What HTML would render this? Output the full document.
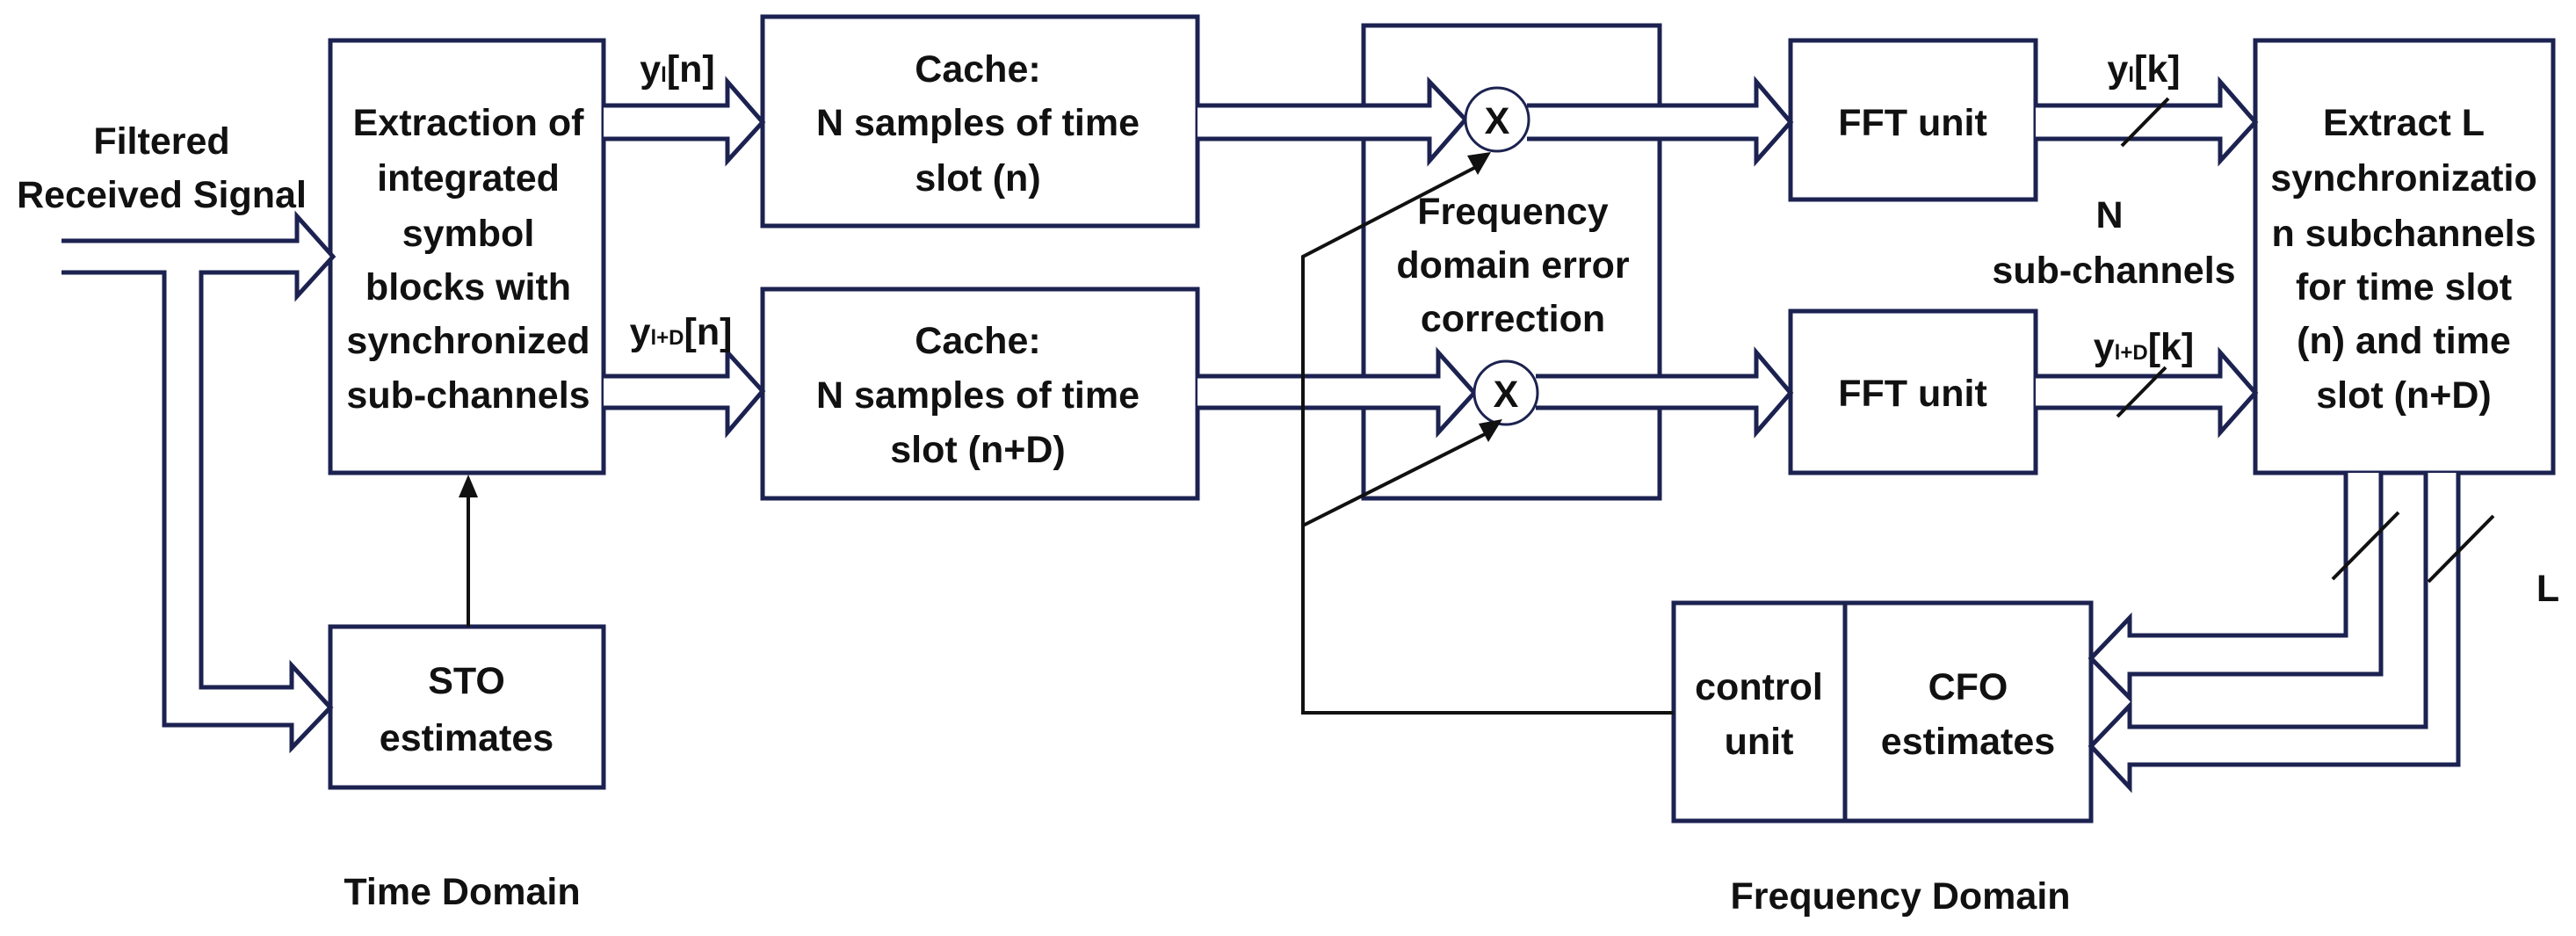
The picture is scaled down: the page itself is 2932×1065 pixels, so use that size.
<!DOCTYPE html>
<html><head><meta charset="utf-8"><style>
html,body{margin:0;padding:0;background:#fff;}
svg{display:block;}
text{font-family:"Liberation Sans",sans-serif;font-weight:bold;font-size:43px;fill:#111;text-anchor:middle;}
</style></head><body>
<svg width="2932" height="1065" viewBox="0 0 2932 1065" xmlns="http://www.w3.org/2000/svg">
<g fill="none" stroke="#1c2250" stroke-width="5">
  <rect x="376" y="46" width="311" height="492"/>
  <rect x="868" y="19" width="495" height="238"/>
  <rect x="868" y="329" width="495" height="238"/>
  <rect x="376" y="713" width="311" height="183"/>
  <rect x="1552" y="29" width="337" height="538"/>
  <rect x="2038" y="46" width="279" height="181"/>
  <rect x="2038" y="354" width="279" height="184"/>
  <rect x="2567" y="46" width="339" height="492"/>
  <rect x="1905" y="686" width="475" height="248"/>
  <line x1="2100" y1="686" x2="2100" y2="934"/>
</g>
<g fill="#fff" stroke="#1c2250" stroke-width="5" stroke-linejoin="miter">
  <polyline points="70,274 338,274 338,246 379,292 338,337 338,310 229,310 229,782 332,782 332,757 376,805 332,851 332,825 187,825 187,310 70,310"/>
  <polyline points="687,120 828,120 828,93 868,139 828,183 828,158 687,158"/>
  <polyline points="687,428 828,428 828,401 868,445 828,492 828,464 687,464"/>
  <polyline points="1363,120 1627,120 1627,93 1668,136 1627,183 1627,158 1363,158"/>
  <polyline points="1363,428 1637,428 1637,401 1678,447 1637,492 1637,464 1363,464"/>
  <polyline points="1738,120 1999,120 1999,93 2038,139 1999,183 1999,158 1738,158"/>
  <polyline points="1748,428 1999,428 1999,401 2038,447 1999,492 1999,464 1748,464"/>
  <polyline points="2317,120 2527,120 2527,93 2567,139 2527,183 2527,158 2317,158"/>
  <polyline points="2317,428 2527,428 2527,401 2567,447 2527,492 2527,464 2317,464"/>
  <polyline points="2670,538 2670,723 2424,723 2424,703 2380,749 2424,794 2424,767 2710,767 2710,538"/>
  <polyline points="2761,538 2761,827 2424,827 2424,803 2380,849 2424,896 2424,870 2798,870 2798,538"/>
  <circle cx="1704" cy="136" r="36" stroke-width="3"/>
  <circle cx="1714" cy="447" r="36" stroke-width="3"/>
</g>
<g stroke="#111" stroke-width="4" fill="none">
  <line x1="533" y1="713" x2="533" y2="560"/>
  <polyline points="1905,811 1483,811 1483,292 1680,190"/>
  <line x1="1483" y1="598" x2="1694" y2="492"/>
  <line x1="2415" y1="166" x2="2468" y2="112"/>
  <line x1="2410" y1="474" x2="2465" y2="418"/>
  <line x1="2655" y1="659" x2="2730" y2="583"/>
  <line x1="2764" y1="662" x2="2838" y2="587"/>
</g>
<g fill="#111">
  <polygon points="533,540 522,566 544,566"/>
  <polygon points="1697,173 1670,177 1682,199"/>
  <polygon points="1710,477 1683,482 1694,503"/>
</g>
<text x="184" y="175">Filtered</text>
<text x="184" y="236">Received Signal</text>
<text x="533" y="154">Extraction of</text>
<text x="533" y="217">integrated</text>
<text x="533" y="280">symbol</text>
<text x="533" y="341">blocks with</text>
<text x="533" y="402">synchronized</text>
<text x="533" y="464">sub-channels</text>
<text x="771" y="93">y<tspan font-size="24">l</tspan>[n]</text>
<text x="775" y="392">y<tspan font-size="24">l+D</tspan>[n]</text>
<text x="1113" y="93">Cache:</text>
<text x="1113" y="154">N samples of time</text>
<text x="1113" y="217">slot (n)</text>
<text x="1113" y="402">Cache:</text>
<text x="1113" y="464">N samples of time</text>
<text x="1113" y="526">slot (n+D)</text>
<text x="531" y="789">STO</text>
<text x="531" y="854">estimates</text>
<text x="526" y="1029">Time Domain</text>
<text x="1704" y="152">X</text>
<text x="1714" y="463">X</text>
<text x="1722" y="255">Frequency</text>
<text x="1722" y="316">domain error</text>
<text x="1722" y="377">correction</text>
<text x="2177" y="154">FFT unit</text>
<text x="2177" y="462">FFT unit</text>
<text x="2440" y="93">y<tspan font-size="24">l</tspan>[k]</text>
<text x="2440" y="409">y<tspan font-size="24">l+D</tspan>[k]</text>
<text x="2401" y="259">N</text>
<text x="2406" y="322">sub-channels</text>
<text x="2736" y="154">Extract L</text>
<text x="2736" y="217">synchronizatio</text>
<text x="2736" y="280">n subchannels</text>
<text x="2736" y="341">for time slot</text>
<text x="2736" y="402">(n) and time</text>
<text x="2736" y="464">slot (n+D)</text>
<text x="2900" y="684">L</text>
<text x="2002" y="796">control</text>
<text x="2002" y="858">unit</text>
<text x="2240" y="796">CFO</text>
<text x="2240" y="858">estimates</text>
<text x="2163" y="1034">Frequency Domain</text>
</svg>
</body></html>
